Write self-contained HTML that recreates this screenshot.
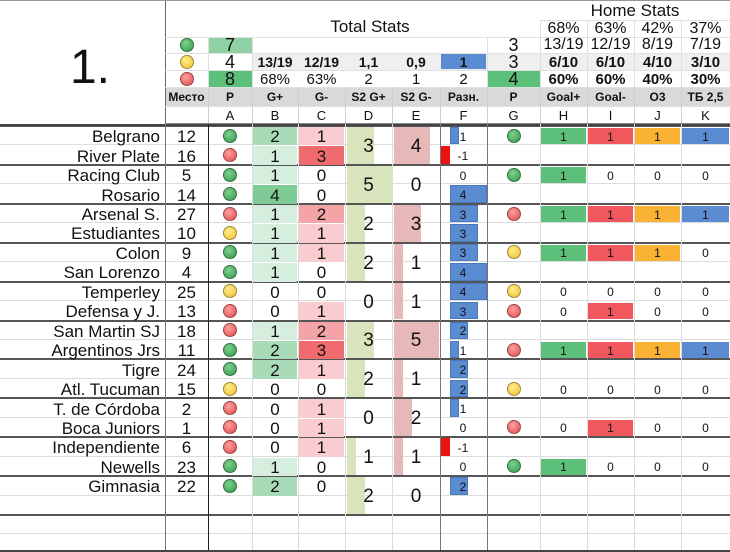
<!DOCTYPE html>
<html><head><meta charset="utf-8">
<style>
html,body{margin:0;padding:0;background:#fff}
#sheet{position:relative;width:730px;height:552px;overflow:hidden;font-family:"Liberation Sans",sans-serif;color:#111}
.a{position:absolute;box-sizing:border-box}
.t{position:absolute;text-align:center;white-space:nowrap;line-height:1}
.dot{position:absolute;width:14px;height:14px;border-radius:50%;box-sizing:border-box;border:1px solid rgba(0,0,0,.35)}
</style></head><body>
<div id="sheet"></div>
<script>
const teams=["Belgrano","River Plate","Racing Club","Rosario","Arsenal S.","Estudiantes","Colon","San Lorenzo","Temperley","Defensa y J.","San Martin SJ","Argentinos Jrs","Tigre","Atl. Tucuman","T. de Córdoba","Boca Juniors","Independiente","Newells","Gimnasia"];
const mesto=[12,16,5,14,27,10,9,4,25,13,18,11,24,15,2,1,6,23,22];
const dotA=["g","r","g","g","r","y","g","g","y","r","r","g","g","y","r","r","r","g","g"];
const goalsFor=[2,1,1,4,1,1,1,1,0,0,1,2,2,0,0,0,0,1,2];
const goalsAgainst=[1,3,0,0,2,1,1,0,0,1,2,3,1,0,1,1,1,0,0];
const pairFor=[3,5,2,2,0,3,2,0,1,2];
const pairAgainst=[4,0,3,1,1,5,1,2,1,0];
const diff=[1,-1,0,4,3,3,3,4,4,3,2,1,2,2,1,0,-1,0,2];
const dotG=["g","","g","","r","","y","","y","r","","r","","y","","r","","g",""];
const homeH=[1,null,1,null,1,null,1,null,0,0,null,1,null,0,null,0,null,1,null];
const homeI=[1,null,0,null,1,null,1,null,0,1,null,1,null,0,null,1,null,0,null];
const homeJ=[1,null,0,null,1,null,1,null,0,0,null,1,null,0,null,0,null,0,null];
const homeK=[1,null,0,null,1,null,0,null,0,0,null,1,null,0,null,0,null,0,null];

const S=document.getElementById('sheet');
const X=[0,165,208,252,298,345,392,440,487,540,587,634,681,730];
const Y0=126,RH=19.45;
function box(x,y,w,h,css,name){const d=document.createElement('div');d.className='a';d.style.cssText=`left:${x}px;top:${y}px;width:${w}px;height:${h}px;${css||''}`;


S.appendChild(d);return d;}
function txt(s,cx,cy,size,css,name,align){const d=document.createElement('div');d.className='t';d.textContent=s;
let st=`font-size:${size}px;top:${cy-size*0.5}px;`;
if(align==='right'){st+=`right:${730-cx}px;`}else{st+=`left:${cx-60}px;width:120px;`}
d.style.cssText=st+(css||'');


S.appendChild(d);return d;}
const DC={g:"radial-gradient(circle at 40% 35%,#7fd08f,#2f9a4a)",y:"radial-gradient(circle at 40% 35%,#ffec8a,#f2c12e)",r:"radial-gradient(circle at 40% 35%,#ffa0a0,#e04848)"};
function dot(c,cx,cy,name){const d=document.createElement('div');d.className='dot';d.style.cssText=`left:${cx-7}px;top:${cy-7}px;background:${DC[c]}`;


S.appendChild(d);}
const cx=i=>(X[i]+X[i+1])/2;

box(165,87,565,19,"background:#d9d9d9","header-label-row");
box(252,53,478,17,"background:#efefef","header-ratio-row");
box(208,37,44,16,"background:#8fd0a4","green-count-cell");
box(208,70,44,17,"background:#5cbf7a","red-count-cell");
box(441,54,45,15,"background:#5b8bd0","diff-summary-cell");
box(488,70,52,17,"background:#5cbf7a","home-p-summary-cell");
box(165,0,1,123,"background:#666","header-vline");
box(0,0,730,1,"background:#999","top-border");
[37,53,70,87,106].forEach(y=>box(165,y,565,1,"background:#e0e0e0","header-hline"));
[20].forEach(y=>box(540,y,190,1,"background:#e0e0e0","header-hline"));
box(165,123,565,1,"background:#888","header-hline");
for(let i=2;i<X.length-1;i++){box(X[i],87,1,36,"background:#d0d0d0","header-vline");}
for(let i=9;i<X.length-1;i++){box(X[i],20,1,67,"background:#e0e0e0","header-vline");}
box(487,37,1,50,"background:#e0e0e0","header-vline");
box(208,37,1,50,"background:#e0e0e0","header-vline");
box(252,37,1,50,"background:#e0e0e0","header-vline");

txt("1.",90,68,48,"","page-number");
txt("Total Stats",370,26,17,"","total-stats-title");
txt("Home Stats",635,10,17,"","home-stats-title");
dot("g",187,45,"legend-green-dot");dot("y",187,62,"legend-yellow-dot");dot("r",187,79,"legend-red-dot");
txt("7",cx(2),45,18,"","green-count");txt("4",cx(2),62,18,"","yellow-count");txt("8",cx(2),79,18,"","red-count");
const r2=["13/19","12/19","1,1","0,9","1"];
r2.forEach((s,k)=>txt(s,cx(3+k),62,14,"font-weight:bold","summary-value"));
const r3=["68%","63%","2","1","2"];
r3.forEach((s,k)=>txt(s,cx(3+k),79,15,"","summary-value"));
txt("3",cx(8),45,18,"","home-summary");txt("3",cx(8),62,18,"","home-summary");txt("4",cx(8),79,18,"","home-summary");
const hp=["68%","63%","42%","37%"],hr=["13/19","12/19","8/19","7/19"],hb=["6/10","6/10","4/10","3/10"],hq=["60%","60%","40%","30%"];
for(let k=0;k<4;k++){txt(hp[k],cx(9+k),29,16,"","home-percent");txt(hr[k],cx(9+k),45,16,"","home-ratio");
txt(hb[k],cx(9+k),62,15,"font-weight:bold","home-ratio-bold");txt(hq[k],cx(9+k),79,15,"font-weight:bold","home-percent-bold");}
const labels=["Место","P","G+","G-","S2 G+","S2 G-","Разн.","P","Goal+","Goal-","O3","ТБ 2,5"];
labels.forEach((s,k)=>txt(s,cx(1+k),97,12,"font-weight:bold","column-header"));
const letters=["A","B","C","D","E","F","G","H","I","J","K"];
letters.forEach((s,k)=>txt(s,cx(2+k),115,13,"","column-letter"));

const NR=22;
for(let r=0;r<=NR;r++){const y=Math.round(Y0+r*RH);const dark=(r%2===0);
box(0,y-1,730,dark?2:1,dark?"background:#555":"background:#dcdcdc",dark?"pair-separator":"row-line");}
box(0,124,730,2,"background:#444","body-top-border");
const yr=r=>Y0+r*RH, yc=r=>Y0+r*RH+RH/2;
const gB=["#fff","#d6eedd","#a9dbb8","#94d3a7","#7fcb96"];
const rC=["#fff","#f9cdcf","#f4a3a6","#ef6b6e"];
teams.forEach((t,r)=>{
  const y=yr(r),c=yc(r);
  if(goalsFor[r]>0)box(X[3]+1,y+1,X[4]-X[3]-2,RH-1,"background:"+gB[goalsFor[r]],"goals-for-cell");
  if(goalsAgainst[r]>0)box(X[4]+1,y+1,X[5]-X[4]-2,RH-1,"background:"+rC[goalsAgainst[r]],"goals-against-cell");
  txt(t,160,c+1,17,"","team-name","right");
  txt(String(mesto[r]),cx(1),c+1,17,"","team-place");
  dot(dotA[r],cx(2),c,"result-dot");
  txt(String(goalsFor[r]),cx(3),c+1,17,"","goals-for");
  txt(String(goalsAgainst[r]),cx(4),c+1,17,"","goals-against");
  const axis=450,u=9.2,v=diff[r];
  if(v>0)box(axis,y+1,v*u,RH-2,"background:#5b8bd0;border:1px solid #4a78bd","diff-bar");
  if(v<0)box(axis+v*u,y+1,-v*u,RH-2,"background:#ee1111","diff-bar-negative");
  txt(String(v),463,c+1,12,"","diff-value");
  if(dotG[r])dot(dotG[r],cx(8),c,"home-result-dot");
  const hc=[["#5cbf7a",homeH],["#f0585e",homeI],["#f9b233",homeJ],["#5b8bd0",homeK]];
  hc.forEach(([col,arr],k)=>{const v2=arr[r];if(v2===null)return;
    if(v2>0)box(X[9+k]+1,y+2,X[10+k]-X[9+k]-2,RH-3,"background:"+col,"home-stat-cell");
    txt(String(v2),cx(9+k),c+1,12,"","home-stat-value");});
});
pairFor.forEach((v,p)=>{const y=yr(2*p);const h=2*RH;
  if(v>0)box(X[5]+2,y+1,v/5*45,h-2,"background:#d8e4bc","pair-for-bar");
  txt(String(v),cx(5),y+h/2+1,19,"","pair-goals-for");});
pairAgainst.forEach((v,p)=>{const y=yr(2*p);const h=2*RH;
  if(v>0)box(X[6]+2,y+1,v/5*45,h-2,"background:#e6b8b7","pair-against-bar");
  txt(String(v),cx(6),y+h/2+1,19,"","pair-goals-against");});
for(let i=1;i<X.length-1;i++){const dark=[1,2,7,8].includes(i);
  box(X[i],124,1,428,dark?(i===2?"background:#222":"background:#777"):"background:#dcdcdc","column-line");}
box(0,550,730,2,"background:#444","bottom-border");
</script>
</body></html>
